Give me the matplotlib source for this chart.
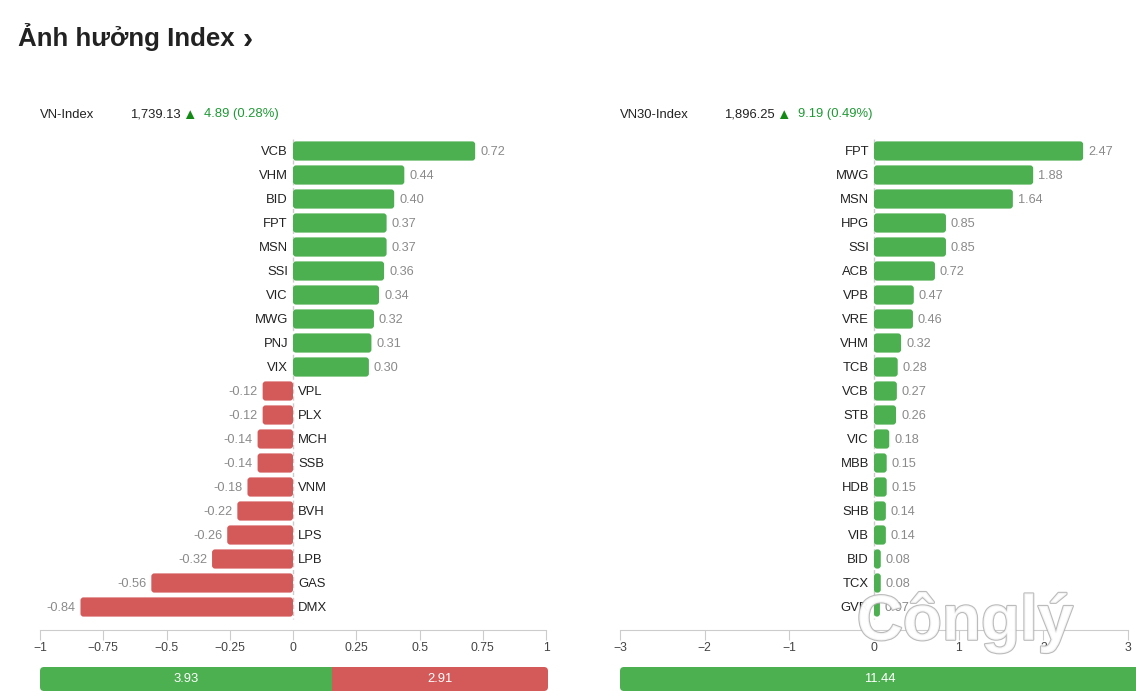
import matplotlib
matplotlib.use("Agg")
import matplotlib.pyplot as plt
from matplotlib.patches import FancyBboxPatch
import matplotlib.patheffects as pe

plt.rcParams['font.family'] = ['Liberation Sans', 'DejaVu Sans']
plt.rcParams['axes.unicode_minus'] = True

# ---------------- data ----------------
title = "Ảnh hưởng Index"
vn_name = "VN-Index"
vn_value = "1,739.13"
vn_change = "4.89 (0.28%)"
vn_tickers = ["VCB", "VHM", "BID", "FPT", "MSN", "SSI", "VIC", "MWG", "PNJ", "VIX",
              "VPL", "PLX", "MCH", "SSB", "VNM", "BVH", "LPS", "LPB", "GAS", "DMX"]
vn_values = [0.72, 0.44, 0.40, 0.37, 0.37, 0.36, 0.34, 0.32, 0.31, 0.30,
             -0.12, -0.12, -0.14, -0.14, -0.18, -0.22, -0.26, -0.32, -0.56, -0.84]
vn_ticks = [-1, -0.75, -0.5, -0.25, 0, 0.25, 0.5, 0.75, 1]
vn_tick_labels = ["−1", "−0.75", "−0.5", "−0.25", "0", "0.25", "0.5", "0.75", "1"]
vn_pos_total = 3.93
vn_neg_total = 2.91

vn30_name = "VN30-Index"
vn30_value = "1,896.25"
vn30_change = "9.19 (0.49%)"
vn30_tickers = ["FPT", "MWG", "MSN", "HPG", "SSI", "ACB", "VPB", "VRE", "VHM", "TCB",
                "VCB", "STB", "VIC", "MBB", "HDB", "SHB", "VIB", "BID", "TCX", "GVR"]
vn30_values = [2.47, 1.88, 1.64, 0.85, 0.85, 0.72, 0.47, 0.46, 0.32, 0.28,
               0.27, 0.26, 0.18, 0.15, 0.15, 0.14, 0.14, 0.08, 0.08, 0.07]
vn30_ticks = [-3, -2, -1, 0, 1, 2, 3]
vn30_tick_labels = ["−3", "−2", "−1", "0", "1", "2", "3"]
vn30_pos_total = 11.44
vn30_neg_total = 0.0

# ---------------- style ----------------
GREEN = "#4caf50"
RED = "#d45a5a"
TXT = "#222222"
VAL = "#8a8a8a"
UPGREEN = "#1e9a34"
TRI = "#138a13"
GRID = "#cccccc"

W, H = 1136, 698
fig = plt.figure(figsize=(W / 100, H / 100), dpi=100)


def px_axes(x0, y0, x1, y1):
    return fig.add_axes([x0 / W, 1 - y1 / H, (x1 - x0) / W, (y1 - y0) / H])


def ftext(x, y, s, **kw):
    fig.text(x / W, 1 - y / H, s, **kw)


def round_bars(ax, rects, r_px=3.0):
    fig.canvas.draw()
    bb = ax.get_window_extent()
    x0, x1 = ax.get_xlim()
    y0, y1 = ax.get_ylim()
    xu = abs(x1 - x0) / bb.width
    yu = abs(y1 - y0) / bb.height
    asp = yu / xu
    out = []
    for rect in rects:
        x, y, w, h = rect.get_x(), rect.get_y(), rect.get_width(), rect.get_height()
        if w < 0:
            x, w = x + w, -w
        r = min(r_px * xu, w / 2, (h / asp) / 2)
        p = FancyBboxPatch((x, y), w, h, boxstyle=f"round,pad=0,rounding_size={r}",
                           mutation_aspect=asp, facecolor=rect.get_facecolor(),
                           edgecolor="none", zorder=2)
        rect.remove()
        ax.add_patch(p)
        out.append(p)
    return out


def draw_panel(x0, x1, tickers, values, xlim, ticks, tick_labels,
               name, value, change, xhead2, xtri, xchg):
    ax = px_axes(x0, 139, x1, 630)
    n = len(tickers)
    ys = list(range(n))
    colors = [GREEN if v >= 0 else RED for v in values]
    bars = ax.barh(ys, values, height=0.8, color=colors, zorder=2)
    ax.set_xlim(*xlim)
    ax.set_ylim((630 - 151) / 24, -0.5)
    for s in ["top", "left", "right"]:
        ax.spines[s].set_visible(False)
    ax.spines["bottom"].set_color(GRID)
    ax.set_yticks([])
    ax.set_xticks(ticks)
    ax.set_xticklabels(tick_labels)
    ax.tick_params(axis="x", length=7, color=GRID, labelsize=8.7,
                   labelcolor="#444444", pad=1.5)
    ax.plot([0, 0], [-0.5, n - 0.5], ls=(0, (3, 2)), color=GRID, lw=1, zorder=1)
    round_bars(ax, list(bars))
    span = xlim[1] - xlim[0]
    off = span * 5 / (x1 - x0)
    for y, t, v in zip(ys, tickers, values):
        yt = y + 0.04
        if v >= 0:
            ax.text(-off, yt, t, ha="right", va="center", fontsize=9.4, color=TXT)
            ax.text(v + off, yt, f"{v:.2f}", ha="left", va="center", fontsize=9.2, color=VAL)
        else:
            ax.text(off, yt, t, ha="left", va="center", fontsize=9.4, color=TXT)
            ax.text(v - off, yt, f"{v:.2f}", ha="right", va="center", fontsize=9.2, color=VAL)
    ftext(x0, 114.5, name, fontsize=9.4, color=TXT, va="center", ha="left")
    ftext(xhead2, 114.5, value, fontsize=9.4, color=TXT, va="center", ha="left")
    ftext(xtri, 115, "▲", fontsize=10.5, color=TRI, va="center", ha="left")
    ftext(xchg, 114.5, change, fontsize=9.4, color=UPGREEN, va="center", ha="left")
    return ax


def draw_total(x0, x1, pos, neg):
    ax = px_axes(x0, 667, x1, 691)
    total = pos + neg
    ax.set_xlim(0, total)
    ax.set_ylim(-0.5, 0.5)
    ax.axis("off")
    segs = ax.barh([0, 0], [pos, neg], left=[0, pos], height=1.0,
                   color=[GREEN, RED], zorder=2)
    fig.canvas.draw()
    bb = ax.get_window_extent()
    xu = total / bb.width
    yu = 1.0 / bb.height
    asp = yu / xu
    clip = FancyBboxPatch((0, -0.5), total, 1.0,
                          boxstyle=f"round,pad=0,rounding_size={4 * xu}",
                          mutation_aspect=asp, facecolor="none", edgecolor="none")
    ax.add_patch(clip)
    for s in segs:
        s.set_clip_path(clip)
    if pos > 0:
        ax.text(pos / 2, 0, f"{pos:.2f}", ha="center", va="center",
                color="white", fontsize=9.4)
    if neg > 0:
        ax.text(pos + neg / 2, 0, f"{neg:.2f}", ha="center", va="center",
                color="white", fontsize=9.4)


# title
ftext(18, 37, title, fontsize=18.6, fontweight="bold", color=TXT, va="center", ha="left")
ftext(243, 39.5, "›", fontsize=22, fontweight="bold", color=TXT, va="center", ha="left")

draw_panel(40, 546, vn_tickers, vn_values, (-1, 1), vn_ticks, vn_tick_labels,
           vn_name, vn_value, vn_change, 130, 182, 204)
draw_panel(620, 1128, vn30_tickers, vn30_values, (-3, 3), vn30_ticks, vn30_tick_labels,
           vn30_name, vn30_value, vn30_change, 724, 776, 798)

draw_total(40, 548, vn_pos_total, vn_neg_total)
draw_total(620, 1136 + 4, vn30_pos_total, vn30_neg_total)

# watermark
fig.text(965 / W, 1 - 622 / H, "Cônglý", fontsize=46, fontweight="bold",
         color="white", alpha=0.85, ha="center", va="center",
         path_effects=[pe.withStroke(linewidth=1.6, foreground="#b0b0b0")], zorder=10)

fig.savefig("out.png", dpi=100)
